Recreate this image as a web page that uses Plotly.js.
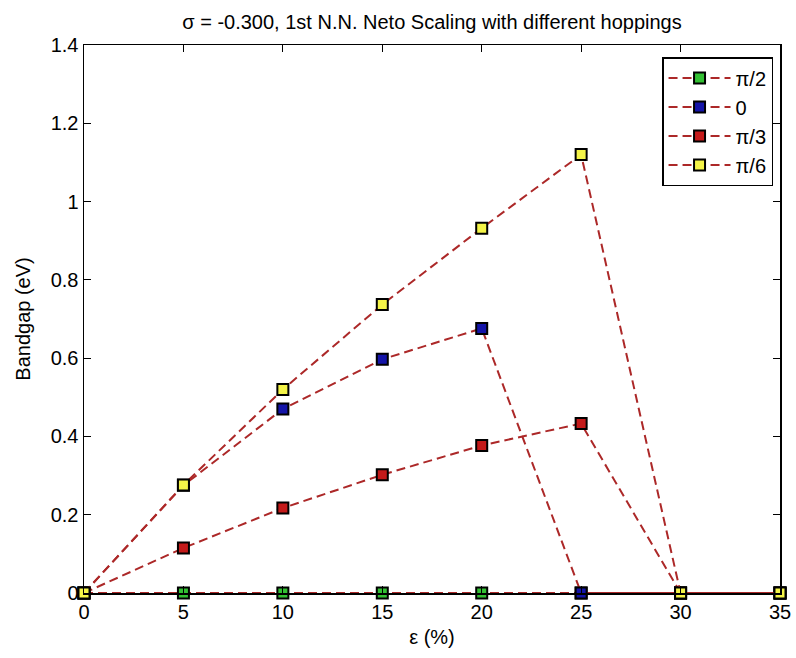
<!DOCTYPE html>
<html><head><script src="https://cdn.plot.ly/plotly-3.0.1.min.js"></script>
<style>body{margin:0;padding:0;background:#fff}</style></head>
<body><div id="chart" style="width:796px;height:658px"></div>
<script>
const strain = [0, 5, 10, 15, 20, 25, 30, 35];
const gapPi2 = [0, 0, 0, 0, 0, 0, 0, 0];
const gap0 = [0, 0.275, 0.47, 0.597, 0.676, 0, 0, 0];
const gapPi3 = [0, 0.115, 0.217, 0.302, 0.377, 0.433, 0, 0];
const gapPi6 = [0, 0.276, 0.52, 0.737, 0.932, 1.12, 0, 0];
const names = ['π/2', '0', 'π/3', 'π/6'];
const fills = ['#33c033', '#1414a8', '#c41a1a', '#f4f448'];
const series = [gapPi2, gap0, gapPi3, gapPi6];
const traces = series.map((y, i) => ({
  x: strain, y: y, name: names[i], type: 'scatter', mode: 'lines+markers',
  legendgroup: 'g' + i, cliponaxis: false,
  line: {color: '#ac2828', width: 2, dash: '9px,5px'},
  marker: {symbol: 'square', size: 11, color: fills[i], line: {color: '#000', width: 2}}
}));
const layout = {
  width: 796, height: 658,
  margin: {l: 84, r: 16, t: 45, b: 65},
  paper_bgcolor: '#fff', plot_bgcolor: '#fff',
  font: {family: 'Liberation Sans, Arial, sans-serif', size: 20, color: '#000'},
  title: {text: 'σ = -0.300, 1st N.N. Neto Scaling with different hoppings', xref: 'paper', x: 0.5, xanchor: 'center',
    yref: 'container', y: 1 - 22/658, yanchor: 'middle', font: {size: 20}},
  xaxis: {range: [0, 35], tickvals: [0,5,10,15,20,25,30,35], ticks: 'inside', ticklen: 7, tickcolor: '#000', showgrid: false, zeroline: false,
    showline: true, linecolor: '#000', linewidth: 1.5, mirror: 'ticks',
    title: {text: 'ε (%)', font: {size: 20}, standoff: 8}},
  yaxis: {range: [0, 1.4], tickvals: [0,0.2,0.4,0.6,0.8,1,1.2,1.4], ticktext: ['0','0.2','0.4','0.6','0.8','1','1.2','1.4'],
    ticks: 'inside', ticklen: 7, tickcolor: '#000', showgrid: false, zeroline: false,
    showline: true, linecolor: '#000', linewidth: 1.5, mirror: 'ticks',
    title: {text: 'Bandgap (eV)', font: {size: 20}, standoff: 14}},
  legend: {x: 0.99, y: 0.978, xanchor: 'right', yanchor: 'top', bgcolor: '#fff', bordercolor: '#000', borderwidth: 1.5,
    font: {size: 20}, traceorder: 'grouped', tracegroupgap: 0, itemwidth: 62},
  showlegend: true
};
Plotly.newPlot('chart', traces, layout, {displayModeBar: false, staticPlot: true});
</script></body></html>
